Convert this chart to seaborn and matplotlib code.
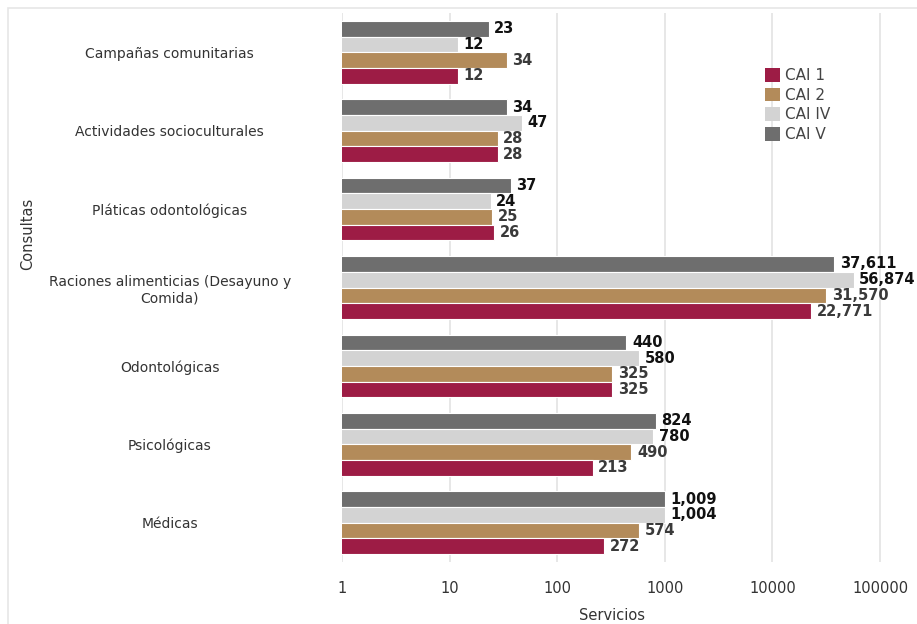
import numpy as np
import pandas as pd
import matplotlib
matplotlib.use("Agg")
import matplotlib.pyplot as plt
import seaborn as sns
from matplotlib.patches import Rectangle, Patch

# Categorías de servicio (de arriba hacia abajo)
categorias = [
    "Campañas comunitarias",
    "Actividades socioculturales",
    "Pláticas odontológicas",
    "Raciones alimenticias (Desayuno y\nComida)",
    "Odontológicas",
    "Psicológicas",
    "Médicas",
]

# Servicios por centro
cai_1 = [12, 28, 26, 22771, 325, 213, 272]
cai_2 = [34, 28, 25, 31570, 325, 490, 574]
cai_iv = [12, 47, 24, 56874, 580, 780, 1004]
cai_v = [23, 34, 37, 37611, 440, 824, 1009]

series = {"CAI 1": cai_1, "CAI 2": cai_2, "CAI IV": cai_iv, "CAI V": cai_v}
colores = {"CAI 1": "#9D1C45", "CAI 2": "#B38B5A", "CAI IV": "#D3D3D3", "CAI V": "#6E6E6E"}
orden_barras = ["CAI V", "CAI IV", "CAI 2", "CAI 1"]
orden_leyenda = ["CAI 1", "CAI 2", "CAI IV", "CAI V"]
color_etiqueta = {"CAI V": "#111111", "CAI IV": "#111111", "CAI 2": "#3a3a3a", "CAI 1": "#3a3a3a"}

df = pd.DataFrame(
    [(c, s, v) for s, vals in series.items() for c, v in zip(categorias, vals)],
    columns=["Consultas", "Centro", "Servicios"],
)

sns.set_theme(style="white")
plt.rcParams["font.family"] = ["DejaVu Sans"]

W, H = 917, 624
fig = plt.figure(figsize=(W / 100, H / 100), dpi=100)
ax = fig.add_axes([342 / W, 1 - 562 / H, (W - 342) / W, (562 - 13) / H])

# marco exterior
fig.patches.append(Rectangle((8 / W, -0.1), 1.2, 1 - 8 / H + 0.1,
                             transform=fig.transFigure, fill=False,
                             edgecolor="#e6e6e6", linewidth=1.2, zorder=0))

sns.barplot(data=df, y="Consultas", x="Servicios", hue="Centro",
            order=categorias, hue_order=orden_barras, palette=colores,
            orient="h", width=0.8, saturation=1,
            errorbar=None, ax=ax, legend=False,
            edgecolor="white", linewidth=0.8)
ax.set_xscale("log")

ax.set_xlim(1, 10 ** ((W - 342) / 107.6))
ax.set_ylim(6.5, -0.5)

ticks = [1, 10, 100, 1000, 10000, 100000]
ax.set_xticks(ticks)
ax.set_xticklabels([str(t) for t in ticks])
ax.xaxis.set_minor_locator(matplotlib.ticker.NullLocator())
ax.grid(axis="x", color="#e3e3e3", linewidth=1.2)
ax.set_axisbelow(True)
for s in ax.spines.values():
    s.set_visible(False)

ax.tick_params(axis="x", length=0, pad=14, labelsize=10.5, labelcolor="#333333")
ax.tick_params(axis="y", length=0, pad=124, labelsize=10, labelcolor="#333333")
for lbl in ax.get_yticklabels():
    lbl.set_ha("center")
    lbl.set_multialignment("center")

for cont, nombre in zip(ax.containers, orden_barras):
    ax.bar_label(cont, labels=[f"{v:,}" for v in series[nombre]], padding=4,
                 fontsize=10.5, fontweight="bold", color=color_etiqueta[nombre])

ax.set_xlabel("Servicios", fontsize=10.5, color="#333333")
ax.set_ylabel("Consultas", fontsize=10.5, color="#333333")
ax.xaxis.set_label_coords((612 - 342) / (W - 342), -(608 - 562) / (562 - 13))
ax.yaxis.set_label_coords((35 - 342) / (W - 342), 1 - (234 - 13) / (562 - 13))

handles = [Patch(facecolor=colores[n], edgecolor="none") for n in orden_leyenda]
ax.legend(handles, orden_leyenda, loc="upper left",
          bbox_to_anchor=((765 - 342) / (W - 342), 1 - (68 - 13) / (562 - 13)),
          frameon=False, fontsize=11, handlelength=1.0, handleheight=1.0,
          handletextpad=0.3, labelspacing=0.3, borderaxespad=0, borderpad=0,
          labelcolor="#444444")

fig.savefig("out.png", dpi=100)
